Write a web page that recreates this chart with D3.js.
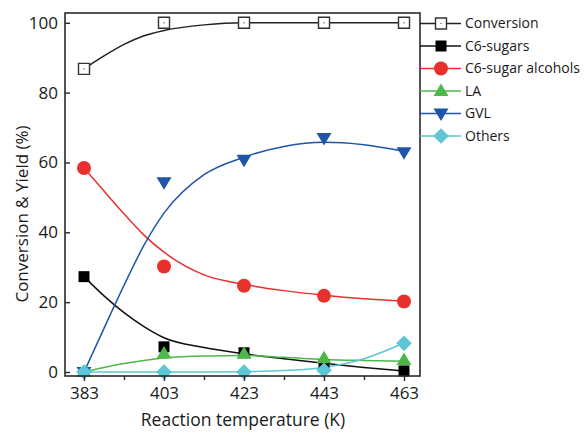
<!DOCTYPE html>
<html>
<head>
<meta charset="utf-8">
<script src="https://cdn.jsdelivr.net/npm/d3@7/dist/d3.min.js"></script>
<style>
  html, body { margin: 0; padding: 0; background: #fff; }
  svg { display: block; }
  text { font-family: "Open Sans", "Noto Sans", sans-serif; fill: #1a1a1a; }
</style>
</head>
<body>
<svg id="chart" width="586" height="433"></svg>
<script>
// ---- data ----
const temperatures = [383, 403, 423, 443, 463];
const xTicks = [383, 403, 423, 443, 463];
const xMinorTicks = [393, 413, 433, 453];
const yTicks = [0, 20, 40, 60, 80, 100];

const conversion = [86.8, 100, 100, 100, 100];
const c6Sugars = [27.3, 7.2, 5.5, 2.0, 0.3];
const c6SugarAlcohols = [58.4, 30.2, 24.7, 21.8, 20.2];
const la = [0, 5.3, 5.2, 3.9, 3.4];
const gvl = [0, 54.3, 60.8, 67.0, 62.9];
const others = [0, 0, 0, 0.5, 8.2];

// fitted trend curves at these temperatures
const fitTemps = [383, 388, 393, 398, 403, 413, 423, 433, 443, 453, 463];
const conversionFit = [86.8, 90.5, 93.8, 96.3, 97.8, 99.4, 100, 100, 100, 100, 100];
const c6SugarsFit = [27.3, 21.8, 17.0, 13.0, 9.8, 7.0, 5.2, 3.8, 2.5, 1.3, 0.3];
const c6SugarAlcoholsFit = [58.4, 51.8, 45.3, 39.2, 34.3, 27.8, 25.1, 23.3, 22.0, 21.0, 20.3];
const laFit = [0, 1.3, 2.4, 3.3, 4.0, 4.6, 4.7, 4.2, 3.6, 3.3, 3.1];
const gvlFit = [0, 12.5, 24.8, 36.3, 45.5, 56.5, 61.5, 64.6, 65.8, 65.1, 63.2];
const othersFit = [0, 0, 0, 0, 0, 0, 0.1, 0.4, 1.3, 3.8, 8.3];

const seriesNames = ["Conversion", "C6-sugars", "C6-sugar alcohols", "LA", "GVL", "Others"];

// ---- build ----
const series = [
  { name: seriesNames[0], values: conversion, fit: conversionFit, color: "#222", fill: "#fff", shape: "openSquare" },
  { name: seriesNames[1], values: c6Sugars, fit: c6SugarsFit, color: "#111", fill: "#000", shape: "square" },
  { name: seriesNames[2], values: c6SugarAlcohols, fit: c6SugarAlcoholsFit, color: "#e8302f", fill: "#e8302f", shape: "circle" },
  { name: seriesNames[3], values: la, fit: laFit, color: "#4cb848", fill: "#4cb848", shape: "triUp" },
  { name: seriesNames[4], values: gvl, fit: gvlFit, color: "#1f55a8", fill: "#1f55a8", shape: "triDown" },
  { name: seriesNames[5], values: others, fit: othersFit, color: "#5cc6d6", fill: "#5cc6d6", shape: "diamond" }
];

const L = 65, R = 420, T = 13, B = 376;
const svg = d3.select("#chart");
const x = d3.scaleLinear().domain([378.25, 467]).range([L, R]);
const y = d3.scaleLinear().domain([-1.15, 102.8]).range([B, T]);

function shapePath(shape) {
  switch (shape) {
    case "openSquare":
    case "square": { const s = 5.5; return `M${-s},${-s}H${s}V${s}H${-s}Z`; }
    case "circle": { const r = 7; return `M${r},0A${r},${r} 0 1,1 ${-r},0A${r},${r} 0 1,1 ${r},0Z`; }
    case "triUp": return "M0,-7.5L7.5,5L-7.5,5Z";
    case "triDown": return "M0,7.5L7.5,-5L-7.5,-5Z";
    case "diamond": { const d = 7.8; return `M0,${-d}L${d},0L0,${d}L${-d},0Z`; }
  }
}

function drawMarker(g, s) {
  const p = g.append("path").attr("d", shapePath(s.shape));
  if (s.shape === "openSquare") {
    p.attr("fill", "#fff").attr("stroke", "#333").attr("stroke-width", 1.4);
    g.append("rect").attr("x", -0.6).attr("y", -0.6).attr("width", 1.2).attr("height", 1.2).attr("fill", "#555");
  } else {
    p.attr("fill", s.fill);
  }
}

// fit curves
const line = d3.line().x(d => x(d[0])).y(d => y(d[1])).curve(d3.curveMonotoneX);
svg.append("clipPath").attr("id", "clip").append("rect")
  .attr("x", L).attr("y", T).attr("width", R - L).attr("height", B - T);
const plot = svg.append("g").attr("clip-path", "url(#clip)");
series.forEach(s => {
  plot.append("path")
    .datum(fitTemps.map((t, i) => [t, s.fit[i]]))
    .attr("d", line)
    .attr("fill", "none")
    .attr("stroke", s.color)
    .attr("stroke-width", 1.5);
});

// markers
series.forEach(s => {
  temperatures.forEach((t, i) => {
    const g = svg.append("g").attr("transform", `translate(${x(t)},${y(s.values[i])})`);
    drawMarker(g, s);
  });
});

// frame
svg.append("rect").attr("x", L).attr("y", T).attr("width", R - L).attr("height", B - T)
  .attr("fill", "none").attr("stroke", "#2a2a2a").attr("stroke-width", 1.6);

// x axis (ticks outward)
const xAxis = svg.append("g").attr("transform", `translate(0,${B})`)
  .call(d3.axisBottom(x).tickValues(xTicks).tickSize(5).tickPadding(6).tickFormat(d3.format("d")));
xAxis.select(".domain").remove();
xAxis.selectAll(".tick line").attr("stroke", "#2a2a2a").attr("stroke-width", 1.4);
xAxis.selectAll("text").attr("font-size", 17).attr("fill", "#1a1a1a")
  .style("font-family", '"Open Sans", sans-serif');
svg.append("g").attr("transform", `translate(0,${B})`)
  .call(d3.axisBottom(x).tickValues(xMinorTicks).tickSize(4).tickFormat(""))
  .call(g => g.select(".domain").remove())
  .selectAll(".tick line").attr("stroke", "#2a2a2a").attr("stroke-width", 1.4);

// y axis (ticks inward)
const yAxis = svg.append("g").attr("transform", `translate(${L},0)`)
  .call(d3.axisLeft(y).tickValues(yTicks).tickSize(-5).tickPadding(7).tickFormat(d3.format("d")));
yAxis.select(".domain").remove();
yAxis.selectAll(".tick line").attr("stroke", "#2a2a2a").attr("stroke-width", 1.4);
yAxis.selectAll("text").attr("font-size", 17).attr("fill", "#1a1a1a")
  .style("font-family", '"Open Sans", sans-serif');

// axis titles
svg.append("text").attr("x", 243).attr("y", 426)
  .attr("text-anchor", "middle").attr("font-size", 17.5).text("Reaction temperature (K)");
svg.append("text").attr("transform", `translate(28,${214}) rotate(-90)`)
  .attr("text-anchor", "middle").attr("font-size", 17).text("Conversion & Yield (%)");

// legend
const legend = svg.append("g");
series.forEach((s, i) => {
  const ly = 23.5 + i * 22.5;
  legend.append("line").attr("x1", R).attr("x2", 461).attr("y1", ly).attr("y2", ly)
    .attr("stroke", s.color).attr("stroke-width", 1.5);
  const g = legend.append("g").attr("transform", `translate(441,${ly})`);
  drawMarker(g, s);
  legend.append("text").attr("x", 465).attr("y", ly).attr("dy", "0.35em")
    .attr("font-size", 14).text(s.name);
});
</script>
</body>
</html>
